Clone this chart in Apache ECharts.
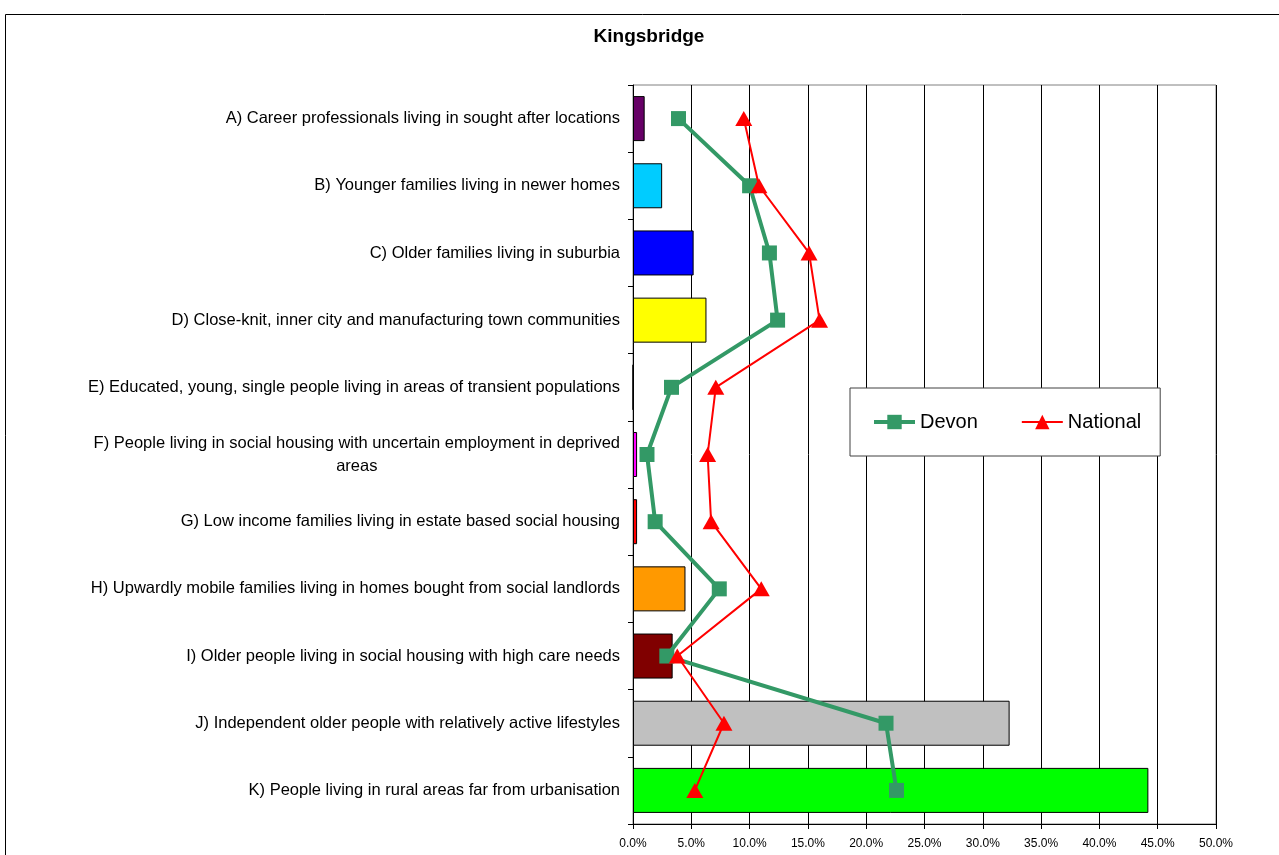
<!DOCTYPE html>
<html>
<head>
<meta charset="utf-8">
<title>Kingsbridge</title>
<script src="https://cdn.jsdelivr.net/npm/echarts@6/dist/echarts.min.js"></script>
<style>
  html, body { margin: 0; padding: 0; background: #fff; }
  #chart { width: 1279px; height: 855px; }
</style>
</head>
<body>
<div id="chart"></div>
<script>
// Segment groups (top to bottom)
const categories = [
  'A) Career professionals living in sought after locations',
  'B) Younger families living in newer homes',
  'C) Older families living in suburbia',
  'D) Close-knit, inner city and manufacturing town communities',
  'E) Educated, young, single people living in areas of transient populations',
  'F) People living in social housing with uncertain employment in deprived areas',
  'G) Low income families living in estate based social housing',
  'H) Upwardly mobile families living in homes bought from social landlords',
  'I) Older people living in social housing with high care needs',
  'J) Independent older people with relatively active lifestyles',
  'K) People living in rural areas far from urbanisation'
];

// Share of households, percent
const kingsbridge = [1.0, 2.5, 5.2, 6.3, 0.0, 0.35, 0.35, 4.5, 3.4, 32.3, 44.2];
const devon       = [3.9, 10.0, 11.7, 12.4, 3.3, 1.2, 1.9, 7.4, 2.9, 21.7, 22.6];
const national    = [9.5, 10.8, 15.1, 16.0, 7.1, 6.4, 6.7, 11.0, 3.8, 7.8, 5.3];

// Axis ticks (percent)
const xTicks = { min: 0, max: 50, step: 5 };

const barColors = ['#660066', '#00CCFF', '#0000FF', '#FFFF00', '#FFFFFF', '#FF00FF',
                   '#FF0000', '#FF9900', '#800000', '#C0C0C0', '#00FF00'];

const FONT = '"Liberation Sans", Arial, sans-serif';

const chart = echarts.init(document.getElementById('chart'), null, { renderer: 'canvas' });

// Long labels wrap onto a second, centred line
function wrapLabel(text) {
  const maxLen = 74;
  if (text.length <= maxLen) return text;
  const cut = text.lastIndexOf(' ', maxLen);
  return '{l|' + text.slice(0, cut) + '}\n{c|' + text.slice(cut + 1) + '}';
}

chart.setOption({
  backgroundColor: '#ffffff',
  animation: false,
  graphic: [{
    type: 'rect',
    shape: { x: 5.5, y: 14.5, width: 1400, height: 1000 },
    style: { fill: null, stroke: '#000000', lineWidth: 1 },
    silent: true,
    z: -10
  }],
  title: {
    text: 'Kingsbridge',
    left: 644,
    top: 22,
    textAlign: 'center',
    textStyle: { fontFamily: FONT, fontSize: 19, fontWeight: 'bold', color: '#000' }
  },
  legend: {
    data: [
      { name: 'Devon', lineStyle: { width: 4 } },
      { name: 'National', lineStyle: { width: 2 } }
    ],
    left: 850,
    top: 388,
    orient: 'horizontal',
    padding: [24, 19, 24, 22],
    itemGap: 43,
    itemWidth: 41,
    itemHeight: 18,
    borderColor: '#404040',
    borderWidth: 1,
    backgroundColor: '#ffffff',
    textStyle: { fontFamily: FONT, fontSize: 20, color: '#000' }
  },
  grid: {
    left: 633,
    right: 63,
    top: 85,
    bottom: 31,
    show: true,
    borderColor: '#808080',
    borderWidth: 1,
    containLabel: false
  },
  xAxis: {
    type: 'value',
    min: xTicks.min,
    max: xTicks.max,
    interval: xTicks.step,
    axisLine: { show: true, lineStyle: { color: '#000', width: 1 } },
    axisTick: { show: true, length: 5, lineStyle: { color: '#000' } },
    splitLine: { show: true, lineStyle: { color: '#000', width: 1 } },
    axisLabel: {
      margin: 14,
      fontFamily: FONT,
      fontSize: 12,
      color: '#000',
      formatter: v => v.toFixed(1) + '%'
    }
  },
  yAxis: {
    type: 'category',
    data: categories,
    inverse: true,
    axisLine: { show: true, lineStyle: { color: '#000', width: 1 } },
    axisTick: { show: true, length: 5, lineStyle: { color: '#000' } },
    splitLine: { show: false },
    axisLabel: {
      margin: 13,
      fontFamily: FONT,
      fontSize: 16.5,
      color: '#000',
      formatter: wrapLabel,
      rich: {
        l: { fontFamily: FONT, fontSize: 16.5, color: '#000', lineHeight: 23 },
        c: { fontFamily: FONT, fontSize: 16.5, color: '#000', lineHeight: 23, align: 'center' }
      }
    }
  },
  series: [
    {
      name: 'Kingsbridge',
      type: 'bar',
      barWidth: '67%',
      data: kingsbridge.map((v, i) => ({
        value: v,
        itemStyle: { color: barColors[i], borderColor: '#000', borderWidth: 1 }
      })),
      z: 2
    },
    {
      name: 'Devon',
      type: 'line',
      data: devon.map((v, i) => [v, categories[i]]),
      symbol: 'rect',
      symbolSize: 15,
      lineStyle: { color: '#339966', width: 4 },
      itemStyle: { color: '#339966' },
      z: 3
    },
    {
      name: 'National',
      type: 'line',
      data: national.map((v, i) => [v, categories[i]]),
      symbol: 'triangle',
      symbolSize: [17, 15],
      lineStyle: { color: '#FF0000', width: 2 },
      itemStyle: { color: '#FF0000' },
      z: 4
    }
  ]
});
</script>
</body>
</html>
